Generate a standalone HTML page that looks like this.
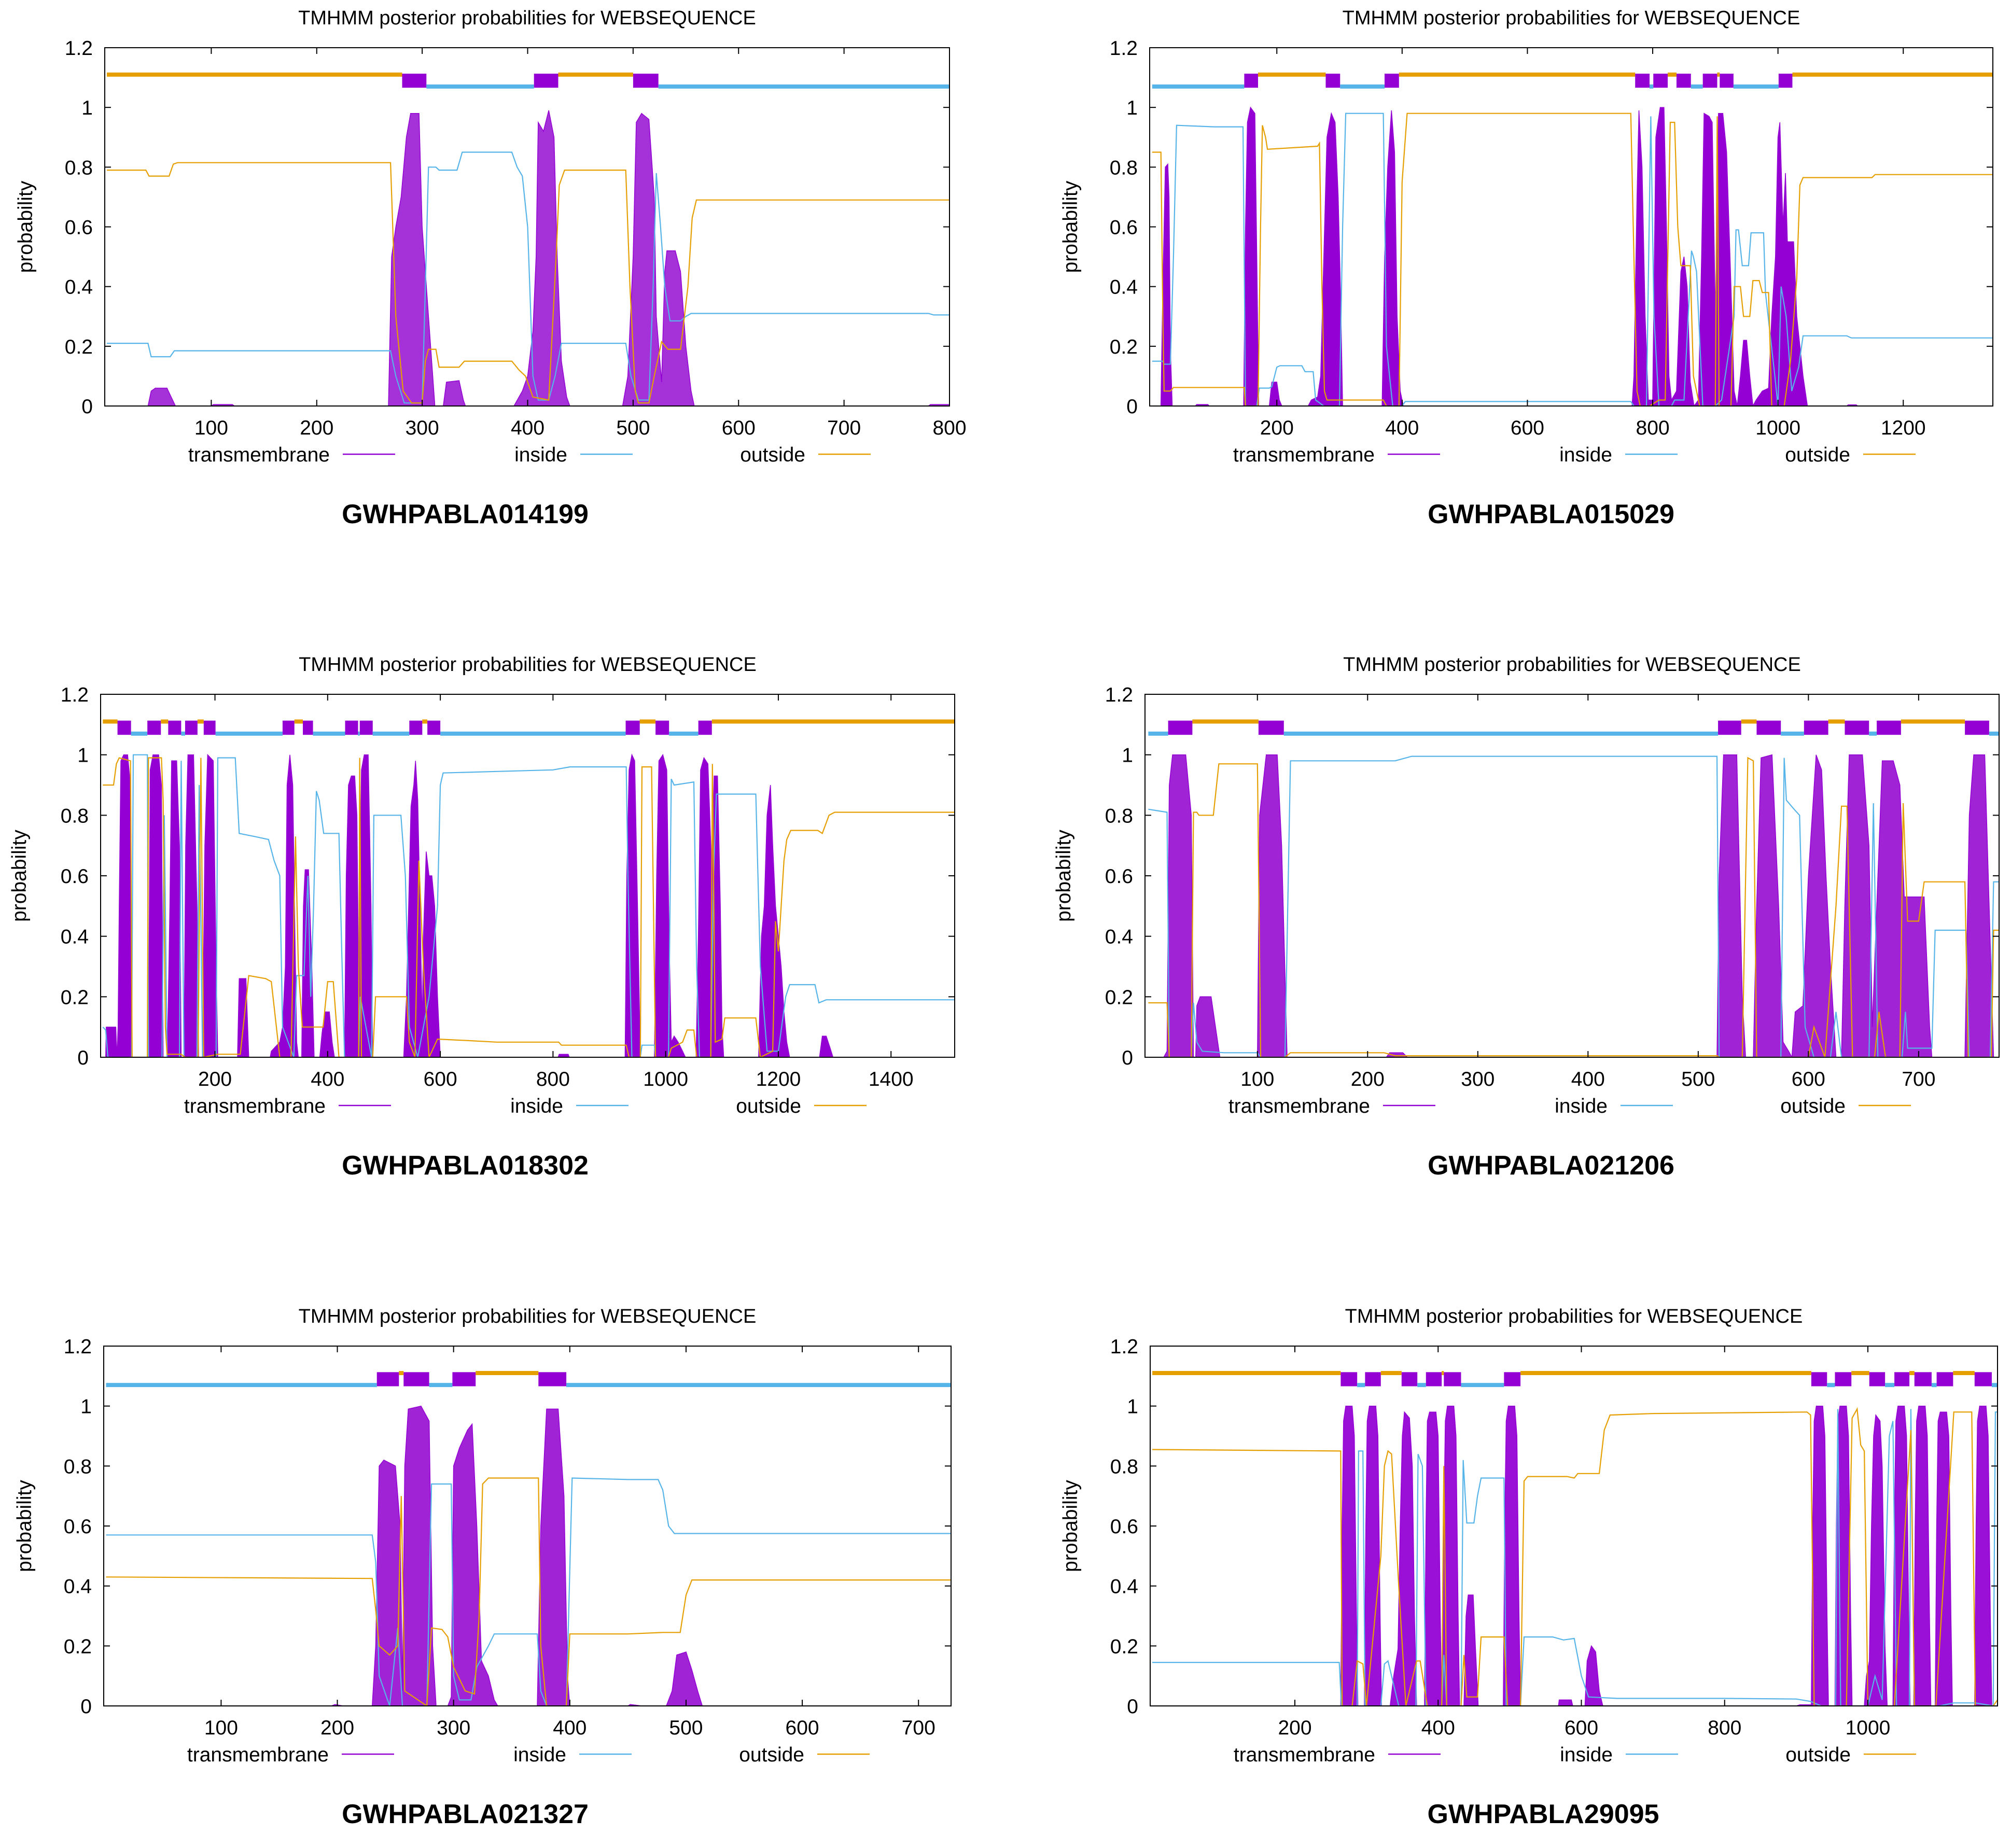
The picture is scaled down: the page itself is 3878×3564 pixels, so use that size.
<!DOCTYPE html>
<html><head><meta charset="utf-8"><style>
html,body{margin:0;padding:0;background:#fff}
svg{display:block}
text{font-family:"Liberation Sans",sans-serif;fill:#000}
</style></head><body>
<svg id="fig" xmlns="http://www.w3.org/2000/svg" width="3878" height="3564" viewBox="0 0 3878 3564"></svg>
<script>
// ===== chart 1: GWHPABLA014199 =====
const c1Topo=[[1,281,'o'],[281,304,'M'],[304,406,'i'],[406,429,'M'],[429,500,'o'],[500,524,'M'],[524,800,'i']];
const c1Tm=[[1,0],[40,0],[43,0.05],[47,0.06],[58,0.06],[62,0.03],[66,0],[100,0],[102,0.005],[120,0.005],[122,0],[268,0],[271,0.5],[275,0.6],[280,0.7],[285,0.9],[289,0.98],[297,0.98],[300,0.6],[303,0.45],[308,0.2],[312,0],[320,0],[323,0.08],[335,0.085],[339,0.02],[341,0],[387,0],[395,0.05],[400,0.1],[405,0.25],[408,0.5],[410,0.95],[415,0.92],[420,0.99],[425,0.9],[428,0.5],[432,0.15],[437,0.03],[440,0],[490,0],[495,0.1],[500,0.5],[503,0.95],[508,0.98],[515,0.96],[520,0.7],[522,0.3],[527,0.08],[530,0.45],[532,0.52],[540,0.52],[545,0.45],[550,0.2],[555,0.05],[558,0],[780,0],[782,0.005],[800,0.005]];
const c1In=[[1,0.21],[40,0.21],[43,0.165],[61,0.165],[65,0.185],[270,0.185],[275,0.1],[283,0.01],[300,0.01],[303,0.4],[306,0.8],[313,0.8],[316,0.79],[333,0.79],[338,0.85],[385,0.85],[390,0.8],[395,0.77],[400,0.6],[405,0.1],[410,0.02],[420,0.02],[426,0.1],[432,0.21],[493,0.21],[498,0.1],[505,0.02],[515,0.02],[519,0.4],[522,0.78],[526,0.6],[530,0.4],[535,0.285],[545,0.285],[550,0.3],[555,0.31],[780,0.31],[785,0.305],[800,0.305]];
const c1Out=[[1,0.79],[38,0.79],[41,0.77],[60,0.77],[64,0.81],[68,0.815],[270,0.815],[275,0.3],[282,0.05],[290,0.01],[300,0.01],[303,0.15],[306,0.19],[313,0.19],[316,0.13],[335,0.13],[340,0.15],[385,0.15],[392,0.12],[398,0.1],[405,0.03],[420,0.02],[427,0.5],[430,0.74],[435,0.79],[493,0.79],[497,0.4],[502,0.05],[505,0.01],[515,0.01],[520,0.1],[527,0.215],[533,0.19],[545,0.19],[552,0.4],[556,0.63],[560,0.69],[800,0.69]];
const c1Ticks=[100,200,300,400,500,600,700,800];

// ===== chart 2: GWHPABLA015029 =====
const c2Topo=[[1,148,'i'],[148,170,'M'],[170,278,'o'],[278,301,'M'],[301,372,'i'],[372,395,'M'],[395,772,'o'],[772,795,'M'],[795,801,'i'],[801,824,'M'],[824,838,'o'],[838,861,'M'],[861,880,'i'],[880,903,'M'],[903,907,'o'],[907,929,'M'],[929,1001,'i'],[1001,1023,'M'],[1023,1343,'o']];
const c2Tm=[[1,0],[15,0],[18,0.4],[22,0.8],[26,0.81],[28,0.7],[30,0.2],[33,0],[70,0],[72,0.005],[90,0.005],[92,0],[147,0],[150,0.6],[153,0.95],[158,1.0],[165,0.98],[168,0.5],[171,0],[188,0],[192,0.08],[200,0.08],[204,0.02],[208,0],[250,0],[255,0.02],[265,0.03],[270,0.1],[275,0.5],[280,0.9],[287,0.98],[293,0.95],[298,0.7],[302,0.35],[305,0],[368,0],[372,0.5],[377,0.8],[383,0.99],[388,0.85],[392,0.3],[397,0.05],[402,0],[767,0],[770,0.1],[775,0.7],[778,0.99],[783,0.8],[788,0.3],[793,0.02],[800,0.02],[805,0.9],[812,1.0],[818,1.0],[822,0.6],[826,0.1],[830,0.02],[838,0.05],[845,0.45],[850,0.5],[855,0.4],[860,0.08],[866,0],[873,0.02],[878,0.5],[882,0.98],[890,0.97],[895,0.95],[900,0.3],[905,0.98],[912,0.98],[918,0.85],[925,0.4],[930,0.05],[935,0],[940,0.1],[945,0.22],[950,0.22],[955,0.1],[960,0],[965,0.02],[975,0.05],[985,0.06],[990,0.3],[996,0.5],[1000,0.9],[1003,0.95],[1008,0.6],[1012,0.78],[1015,0.55],[1025,0.55],[1030,0.3],[1040,0.1],[1047,0],[1110,0],[1112,0.004],[1125,0.004],[1127,0],[1343,0]];
const c2In=[[1,0.15],[18,0.15],[20,0.14],[30,0.14],[35,0.5],[40,0.94],[100,0.935],[146,0.935],[150,0.0],[168,0.0],[172,0.06],[188,0.06],[192,0.065],[200,0.13],[205,0.135],[240,0.135],[245,0.115],[258,0.115],[262,0.02],[275,0.0],[300,0.0],[305,0.6],[310,0.98],[370,0.98],[375,0.2],[385,0.0],[400,0.0],[405,0.015],[765,0.015],[770,0.0],[790,0.0],[797,0.97],[802,0.3],[810,0.0],[830,0.0],[835,0.02],[850,0.02],[862,0.52],[865,0.5],[870,0.45],[880,0.0],[900,0.0],[910,0.02],[930,0.3],[933,0.59],[937,0.59],[943,0.47],[953,0.47],[957,0.58],[977,0.58],[980,0.38],[995,0.1],[1000,0.0],[1005,0.4],[1013,0.3],[1022,0.05],[1033,0.13],[1040,0.235],[1110,0.235],[1117,0.228],[1343,0.228]];
const c2Out=[[1,0.85],[15,0.85],[18,0.3],[20,0.05],[30,0.05],[35,0.062],[148,0.062],[150,0.0],[170,0.0],[174,0.6],[177,0.94],[182,0.9],[185,0.86],[265,0.87],[268,0.88],[272,0.4],[276,0.05],[280,0.02],[300,0.02],[305,0.02],[370,0.02],[375,0.0],[395,0.0],[400,0.75],[408,0.98],[765,0.98],[770,0.5],[775,0.05],[780,0.0],[795,0.0],[810,0.02],[820,0.02],[828,0.95],[835,0.95],[840,0.6],[845,0.47],[860,0.47],[865,0.1],[875,0.0],[900,0.0],[903,0.97],[906,0.0],[925,0.0],[930,0.4],[940,0.4],[945,0.3],[955,0.3],[960,0.42],[970,0.42],[975,0.38],[985,0.38],[990,0.0],[1010,0.0],[1020,0.15],[1030,0.43],[1035,0.74],[1040,0.765],[1150,0.765],[1155,0.775],[1343,0.775]];
const c2Ticks=[200,400,600,800,1000,1200];

// ===== chart 3: GWHPABLA018302 =====
const c3Topo=[[1,27,'o'],[27,51,'M'],[51,80,'i'],[80,104,'M'],[104,117,'o'],[117,140,'M'],[140,147,'i'],[147,169,'M'],[169,180,'o'],[180,201,'M'],[201,320,'i'],[320,341,'M'],[341,356,'o'],[356,374,'M'],[374,431,'i'],[431,454,'M'],[454,457,'i'],[457,480,'M'],[480,545,'i'],[545,568,'M'],[568,577,'o'],[577,600,'M'],[600,929,'i'],[929,954,'M'],[954,982,'o'],[982,1006,'M'],[1006,1058,'i'],[1058,1082,'M'],[1082,1513,'o']];
const c3Tm=[[1,0],[6,0],[7,0.1],[24,0.1],[26,0],[28,0.1],[30,0.5],[33,0.98],[38,1.0],[45,1.0],[50,0.9],[53,0],[82,0],[85,0.95],[90,1.0],[100,1.0],[105,0.9],[108,0],[115,0],[117,0.17],[120,0.5],[123,0.98],[132,0.98],[137,0.7],[140,0],[145,0],[148,0.7],[152,1.0],[162,1.0],[168,0.5],[171,0],[178,0],[182,0.7],[187,1.0],[197,0.98],[202,0.3],[205,0],[240,0],[243,0.26],[255,0.26],[260,0],[298,0],[300,0.02],[315,0.05],[320,0.1],[325,0.3],[328,0.9],[333,1.0],[338,0.9],[342,0.4],[345,0.05],[348,0],[354,0],[357,0.5],[360,0.62],[366,0.62],[372,0.3],[376,0],[386,0],[390,0.08],[395,0.15],[403,0.15],[408,0.05],[412,0],[430,0],[433,0.6],[437,0.9],[442,0.93],[448,0.93],[452,0.8],[456,0.05],[457,0.5],[460,0.95],[465,1.0],[472,1.0],[477,0.5],[480,0],[535,0],[540,0.2],[545,0.6],[548,0.83],[553,0.9],[556,0.98],[560,0.85],[565,0.4],[568,0.1],[570,0.4],[575,0.68],[580,0.6],[585,0.6],[590,0.5],[595,0.2],[600,0],[809,0],[811,0.01],[827,0.01],[829,0],[928,0],[931,0.6],[935,0.95],[940,1.0],[945,0.98],[950,0.5],[955,0],[980,0],[984,0.6],[988,0.98],[995,1.0],[1002,0.95],[1006,0.4],[1010,0.05],[1015,0.07],[1022,0.05],[1030,0.02],[1035,0],[1054,0],[1058,0.4],[1062,0.95],[1068,0.99],[1075,0.97],[1082,0.6],[1086,0.93],[1092,0.93],[1097,0.5],[1100,0.1],[1103,0],[1165,0],[1170,0.4],[1175,0.5],[1180,0.8],[1186,0.9],[1190,0.7],[1195,0.5],[1200,0.4],[1205,0.3],[1210,0.15],[1215,0.05],[1220,0],[1273,0],[1278,0.07],[1285,0.07],[1292,0.03],[1297,0],[1513,0]];
const c3In=[[1,0.1],[6,0.09],[10,0.0],[52,0.0],[55,1.0],[80,1.0],[82,0.0],[106,0.0],[110,0.8],[115,0.0],[137,0.0],[140,0.98],[145,0.0],[168,0.0],[172,0.9],[178,0.0],[202,0.0],[205,0.99],[236,0.99],[243,0.74],[270,0.73],[295,0.72],[305,0.65],[315,0.6],[320,0.1],[340,0.0],[345,0.27],[358,0.27],[365,0.6],[370,0.2],[375,0.5],[380,0.88],[385,0.85],[393,0.74],[420,0.74],[425,0.35],[430,0.0],[455,0.0],[458,0.2],[478,0.0],[482,0.8],[530,0.8],[538,0.6],[545,0.1],[560,0.0],[580,0.2],[595,0.5],[600,0.9],[605,0.94],[700,0.945],[800,0.95],[830,0.96],[930,0.96],[933,0.6],[940,0.0],[955,0.0],[958,0.04],[980,0.04],[982,0.0],[1005,0.0],[1010,0.92],[1015,0.9],[1050,0.91],[1055,0.3],[1060,0.0],[1080,0.0],[1085,0.6],[1090,0.87],[1160,0.87],[1168,0.3],[1180,0.02],[1200,0.02],[1213,0.2],[1220,0.24],[1265,0.24],[1272,0.18],[1285,0.19],[1513,0.19]];
const c3Out=[[1,0.9],[20,0.9],[25,0.97],[30,0.99],[50,0.98],[53,0.0],[80,0.0],[82,0.99],[105,0.99],[108,0.85],[112,0.1],[115,0.01],[140,0.01],[147,0.0],[170,0.0],[175,0.99],[180,0.0],[205,0.01],[245,0.01],[260,0.27],[290,0.26],[300,0.25],[315,0.0],[335,0.0],[343,0.73],[348,0.3],[355,0.1],[392,0.1],[400,0.25],[410,0.25],[420,0.0],[455,0.0],[457,0.99],[460,0.0],[480,0.0],[485,0.2],[540,0.2],[545,0.05],[555,0.0],[562,0.65],[570,0.3],[580,0.0],[595,0.06],[650,0.055],[700,0.05],[810,0.05],[815,0.04],[930,0.04],[935,0.0],[955,0.0],[958,0.96],[975,0.96],[982,0.0],[1005,0.0],[1010,0.03],[1030,0.05],[1038,0.09],[1050,0.09],[1055,0.0],[1080,0.0],[1083,0.97],[1088,0.05],[1100,0.06],[1105,0.13],[1160,0.13],[1168,0.0],[1190,0.02],[1195,0.45],[1200,0.35],[1210,0.65],[1215,0.72],[1222,0.75],[1270,0.75],[1278,0.74],[1290,0.8],[1300,0.81],[1513,0.81]];
const c3Ticks=[200,400,600,800,1000,1200,1400];

// ===== chart 4: GWHPABLA021206 =====
const c4Topo=[[1,19,'i'],[19,41,'M'],[41,101,'o'],[101,124,'M'],[124,518,'i'],[518,539,'M'],[539,553,'o'],[553,575,'M'],[575,596,'i'],[596,618,'M'],[618,633,'o'],[633,655,'M'],[655,662,'i'],[662,684,'M'],[684,742,'o'],[742,764,'M'],[764,773,'i']];
const c4Tm=[[1,0],[15,0],[18,0.02],[20,0.9],[23,1.0],[35,1.0],[40,0.8],[42,0],[44,0],[45,0.17],[48,0.2],[58,0.2],[62,0.1],[66,0],[100,0],[102,0.8],[108,1.0],[118,1.0],[122,0.7],[127,0],[217,0],[220,0.015],[232,0.015],[236,0],[517,0],[519,0.6],[523,1.0],[535,1.0],[540,0.2],[543,0],[550,0],[553,0.5],[557,0.99],[567,1.0],[573,0.5],[577,0.05],[582,0.02],[585,0],[588,0.15],[595,0.17],[600,0.6],[607,1.0],[612,0.95],[616,0.6],[620,0.3],[625,0],[630,0],[633,0.5],[637,1.0],[649,1.0],[655,0.7],[658,0.1],[662,0.5],[667,0.98],[677,0.98],[683,0.9],[687,0.53],[705,0.53],[710,0.1],[712,0],[742,0],[746,0.8],[750,1.0],[760,1.0],[764,0.5],[768,0],[773,0]];
const c4In=[[1,0.82],[18,0.81],[20,0.0],[40,0.0],[42,0.18],[45,0.05],[50,0.02],[70,0.015],[100,0.015],[103,0.0],[125,0.0],[130,0.98],[225,0.98],[240,0.995],[517,0.995],[519,0.0],[575,0.0],[578,0.99],[580,0.85],[587,0.82],[592,0.8],[597,0.1],[605,0.0],[620,0.0],[625,0.15],[630,0.0],[655,0.0],[659,0.84],[663,0.0],[685,0.0],[688,0.15],[690,0.03],[712,0.03],[715,0.42],[743,0.42],[746,0.0],[765,0.0],[768,0.58],[773,0.58]];
const c4Out=[[1,0.18],[18,0.18],[20,0.0],[40,0.0],[42,0.81],[45,0.81],[47,0.8],[60,0.8],[65,0.97],[100,0.97],[103,0.0],[125,0.0],[130,0.015],[215,0.015],[225,0.005],[517,0.005],[519,0.0],[540,0.0],[545,0.99],[550,0.98],[553,0.0],[600,0.0],[605,0.1],[615,0.0],[625,0.5],[630,0.83],[635,0.83],[640,0.0],[660,0.0],[664,0.15],[670,0.0],[683,0.0],[686,0.84],[690,0.45],[700,0.45],[705,0.58],[742,0.58],[745,0.0],[766,0.0],[768,0.42],[773,0.42]];
const c4Ticks=[100,200,300,400,500,600,700];

// ===== chart 5: GWHPABLA021327 =====
const c5Topo=[[1,234,'i'],[234,253,'M'],[253,257,'o'],[257,279,'M'],[279,299,'i'],[299,319,'M'],[319,373,'o'],[373,397,'M'],[397,728,'i']];
const c5Tm=[[1,0],[195,0],[198,0.005],[205,0],[230,0],[233,0.2],[236,0.8],[240,0.82],[250,0.8],[254,0.6],[256,0.05],[258,0.8],[261,0.99],[272,1.0],[279,0.95],[282,0.2],[285,0],[295,0],[298,0.03],[300,0.8],[305,0.86],[312,0.92],[316,0.94],[320,0.6],[324,0.15],[330,0.1],[335,0.02],[338,0],[372,0],[375,0.6],[380,0.99],[390,0.99],[395,0.7],[398,0.1],[400,0],[450,0],[452,0.005],[462,0],[483,0],[488,0.05],[492,0.17],[500,0.18],[505,0.12],[510,0.05],[514,0],[728,0]];
const c5In=[[1,0.57],[230,0.57],[233,0.48],[236,0.1],[245,0.0],[252,0.26],[256,0.0],[277,0.0],[281,0.74],[298,0.74],[300,0.1],[305,0.02],[315,0.02],[320,0.13],[330,0.2],[335,0.24],[372,0.24],[375,0.05],[380,0.0],[397,0.0],[402,0.76],[450,0.755],[476,0.755],[480,0.72],[485,0.6],[490,0.575],[728,0.575]];
const c5Out=[[1,0.43],[230,0.425],[233,0.32],[236,0.2],[245,0.17],[252,0.2],[255,0.7],[258,0.05],[277,0.0],[281,0.26],[290,0.255],[295,0.23],[300,0.13],[310,0.05],[318,0.04],[322,0.3],[325,0.74],[330,0.76],[373,0.76],[375,0.2],[380,0.0],[397,0.0],[400,0.24],[450,0.24],[480,0.245],[495,0.245],[500,0.37],[505,0.42],[728,0.42]];
const c5Ticks=[100,200,300,400,500,600,700];

// ===== chart 6: GWHPABLA29095 =====
const c6Topo=[[1,264,'o'],[264,287,'M'],[287,298,'i'],[298,320,'M'],[320,349,'o'],[349,371,'M'],[371,383,'i'],[383,405,'M'],[405,408,'o'],[408,432,'M'],[432,492,'i'],[492,515,'M'],[515,921,'o'],[921,943,'M'],[943,954,'i'],[954,977,'M'],[977,1002,'o'],[1002,1024,'M'],[1024,1037,'i'],[1037,1058,'M'],[1058,1065,'o'],[1065,1089,'M'],[1089,1096,'i'],[1096,1119,'M'],[1119,1149,'o'],[1149,1173,'M'],[1173,1181,'i']];
const c6Tm=[[1,0],[264,0],[266,0.6],[268,0.95],[271,1.0],[280,1.0],[283,0.9],[286,0.3],[288,0],[297,0],[299,0.6],[301,0.95],[304,1.0],[313,1.0],[316,0.9],[319,0.3],[321,0],[333,0],[338,0.1],[344,0.19],[347,0.6],[350,0.9],[353,0.98],[360,0.96],[364,0.8],[367,0.3],[370,0],[381,0],[383,0.6],[385,0.95],[388,0.98],[397,0.98],[400,0.9],[403,0.3],[405,0],[408,0.6],[410,0.95],[413,1.0],[422,1.0],[425,0.9],[428,0.3],[430,0],[436,0],[439,0.3],[442,0.37],[449,0.37],[452,0.2],[456,0],[491,0],[493,0.6],[495,0.95],[498,1.0],[507,1.0],[510,0.9],[513,0.3],[515,0],[568,0],[569,0.02],[586,0.02],[588,0],[605,0],[608,0.15],[614,0.2],[620,0.18],[625,0.05],[630,0],[900,0],[905,0.004],[920,0.004],[921,0],[923,0.6],[925,0.95],[928,1.0],[937,1.0],[940,0.9],[943,0.3],[945,0],[954,0],[956,0.6],[958,0.95],[961,1.0],[970,1.0],[973,0.9],[976,0.3],[978,0],[995,0],[998,0.1],[1002,0.15],[1005,0.6],[1008,0.9],[1011,0.97],[1017,0.95],[1020,0.8],[1024,0.2],[1027,0],[1035,0],[1037,0.6],[1039,0.95],[1042,1.0],[1051,1.0],[1054,0.9],[1057,0.3],[1059,0],[1064,0],[1066,0.6],[1068,0.95],[1071,1.0],[1080,1.0],[1083,0.9],[1086,0.3],[1088,0],[1094,0],[1096,0.6],[1098,0.95],[1101,0.98],[1110,0.98],[1113,0.9],[1116,0.3],[1118,0],[1149,0],[1151,0.6],[1153,0.95],[1156,1.0],[1165,1.0],[1168,0.9],[1171,0.3],[1173,0],[1181,0]];
const c6In=[[1,0.145],[262,0.145],[265,0.0],[287,0.0],[289,0.85],[295,0.85],[298,0.0],[320,0.0],[325,0.14],[330,0.15],[340,0.05],[345,0.0],[369,0.0],[372,0.84],[378,0.8],[383,0.0],[405,0.0],[408,0.17],[412,0.0],[432,0.0],[435,0.82],[440,0.61],[450,0.61],[455,0.7],[460,0.76],[492,0.76],[495,0.0],[515,0.0],[520,0.23],[560,0.23],[575,0.22],[590,0.225],[600,0.1],[610,0.03],[650,0.025],[800,0.025],[900,0.023],[920,0.015],[935,0.0],[955,0.0],[958,0.99],[962,0.0],[1000,0.0],[1010,0.1],[1020,0.02],[1030,0.9],[1035,0.95],[1040,0.0],[1058,0.0],[1060,0.99],[1065,0.0],[1100,0.0],[1120,0.01],[1150,0.01],[1175,0.0],[1178,0.98],[1181,0.98]];
const c6Out=[[1,0.855],[264,0.85],[266,0.0],[280,0.0],[287,0.15],[295,0.14],[300,0.0],[320,0.5],[325,0.8],[330,0.85],[335,0.84],[345,0.4],[355,0.0],[370,0.15],[375,0.15],[385,0.0],[405,0.0],[408,0.8],[412,0.0],[432,0.0],[436,0.17],[440,0.03],[455,0.03],[460,0.23],[492,0.23],[497,0.0],[515,0.0],[520,0.75],[525,0.765],[580,0.765],[590,0.76],[595,0.775],[625,0.775],[632,0.92],[640,0.97],[700,0.975],[915,0.98],[920,0.97],[925,0.0],[970,0.0],[978,0.96],[985,0.99],[990,0.87],[995,0.85],[1000,0.0],[1037,0.0],[1060,0.92],[1065,0.0],[1095,0.0],[1120,0.98],[1145,0.98],[1150,0.0],[1175,0.0],[1181,0.02]];
const c6Ticks=[200,400,600,800,1000];

const yTicks=[0,0.2,0.4,0.6,0.8,1,1.2];
const yTickLabels=['0','0.2','0.4','0.6','0.8','1','1.2'];
const names=['GWHPABLA014199','GWHPABLA015029','GWHPABLA018302','GWHPABLA021206','GWHPABLA021327','GWHPABLA29095'];

// layout (pixel geometry only)
const layout=[
 {L:202,R:1831,T:92,B:783,xmin:-1,xmax:800,ylx:49,nameX:897,topo:c1Topo,tm:c1Tm,ins:c1In,out:c1Out,ticks:c1Ticks,tmCol:'#a531d8'},
 {L:2217,R:3843,T:92,B:783,xmin:-3,xmax:1343,ylx:2064,nameX:2991,topo:c2Topo,tm:c2Tm,ins:c2In,out:c2Out,ticks:c2Ticks,tmCol:'#9400d3'},
 {L:194,R:1841,T:1339,B:2039,xmin:-3,xmax:1513,ylx:37,nameX:897,topo:c3Topo,tm:c3Tm,ins:c3In,out:c3Out,ticks:c3Ticks,tmCol:'#9400d3'},
 {L:2208,R:3855,T:1339,B:2039,xmin:-2,xmax:773,ylx:2051,nameX:2991,topo:c4Topo,tm:c4Tm,ins:c4In,out:c4Out,ticks:c4Ticks,tmCol:'#a024d6'},
 {L:200,R:1834,T:2596,B:3290,xmin:-1,xmax:728,ylx:47,nameX:897,topo:c5Topo,tm:c5Tm,ins:c5In,out:c5Out,ticks:c5Ticks,tmCol:'#a024d6'},
 {L:2218,R:3852,T:2596,B:3290,xmin:-2,xmax:1181,ylx:2064,nameX:2976,topo:c6Topo,tm:c6Tm,ins:c6In,out:c6Out,ticks:c6Ticks,tmCol:'#9a10d6'}
];

const NS='http://www.w3.org/2000/svg';
const fig=document.getElementById('fig');
function mk(tag,attrs,parent){const e=document.createElementNS(NS,tag);for(const k in attrs)e.setAttribute(k,attrs[k]);(parent||fig).appendChild(e);return e;}

layout.forEach((c,ci)=>{
  const g=mk('g',{});
  
  
  const xs=v=>c.L+(v-c.xmin)/(c.xmax-c.xmin)*(c.R-c.L);
  const ys=v=>c.B-v/1.2*(c.B-c.T);
  const cid='clip'+ci;
  const defs=mk('defs',{},g);
  const cp=mk('clipPath',{id:cid},defs);
  mk('rect',{x:c.L,y:c.T,width:c.R-c.L,height:c.B-c.T},cp);
  const plot=mk('g',{'clip-path':'url(#'+cid+')'},g);
  
  
  let d='M'+xs(c.tm[0][0])+','+ys(0);
  c.tm.forEach(p=>{d+=' L'+xs(p[0]).toFixed(1)+','+ys(p[1]).toFixed(1);});
  d+=' L'+xs(c.tm[c.tm.length-1][0])+','+ys(0)+' Z';
  const tmA=mk('path',{d:d,fill:c.tmCol,stroke:'#9400d3','stroke-width':1.5},plot);
  
  
  [[c.ins,'#56b4e9','inside-line'],[c.out,'#e69f00','outside-line']].forEach(s=>{
    const pts=s[0].map(p=>xs(p[0]).toFixed(1)+','+ys(p[1]).toFixed(1)).join(' ');
    const pl=mk('polyline',{points:pts,fill:'none',stroke:s[1],'stroke-width':2.2},plot);
    
    
  });
  c.topo.forEach(t=>{
    let el;
    if(t[2]==='M'){
      el=mk('rect',{x:xs(t[0]),y:ys(1.113),width:xs(t[1])-xs(t[0]),height:ys(1.066)-ys(1.113),fill:'#9400d3'},plot);
      
    } else {
      const yv=t[2]==='i'?1.07:1.11;
      el=mk('line',{x1:xs(t[0]),x2:xs(t[1]),y1:ys(yv),y2:ys(yv),stroke:t[2]==='i'?'#56b4e9':'#e69f00','stroke-width':8},plot);
      
    }
    
  });
  const fr=mk('rect',{x:c.L,y:c.T,width:c.R-c.L,height:c.B-c.T,fill:'none',stroke:'#000','stroke-width':2},g);
  
  
  yTicks.forEach((v,i)=>{
    const y=ys(v);
    mk('line',{x1:c.L,x2:c.L+12,y1:y,y2:y,stroke:'#000','stroke-width':2},g);
    mk('line',{x1:c.R-12,x2:c.R,y1:y,y2:y,stroke:'#000','stroke-width':2},g);
    const t=mk('text',{x:c.L-23,y:y+14,'text-anchor':'end','font-size':39},g);
    t.textContent=yTickLabels[i];
    
    
  });
  c.ticks.forEach(v=>{
    const x=xs(v);
    mk('line',{x1:x,x2:x,y1:c.B,y2:c.B-12,stroke:'#000','stroke-width':2},g);
    mk('line',{x1:x,x2:x,y1:c.T,y2:c.T+12,stroke:'#000','stroke-width':2},g);
    const t=mk('text',{x:x,y:c.B+55,'text-anchor':'middle','font-size':39},g);
    t.textContent=String(v);
    
    
  });
  const ti=mk('text',{x:(c.L+c.R)/2,y:c.T-45,'text-anchor':'middle','font-size':38},g);
  ti.textContent='TMHMM posterior probabilities for WEBSEQUENCE';
  
  
  const yc=(c.T+c.B)/2;
  const yl=mk('text',{x:c.ylx+13,y:yc,'text-anchor':'middle','font-size':39,transform:'rotate(-90 '+(c.ylx+13)+' '+yc+')'},g);
  yl.textContent='probability';
  
  
  [['transmembrane','#9400d3',434],['inside','#56b4e9',892],['outside','#e69f00',1351]].forEach(l=>{
    const lt=mk('text',{x:c.L+l[2],y:c.B+107,'text-anchor':'end','font-size':39},g);
    lt.textContent=l[0];
    
    
    const ll=mk('line',{x1:c.L+l[2]+25,x2:c.L+l[2]+126,y1:c.B+93,y2:c.B+93,stroke:l[1],'stroke-width':2.5},g);
    
    
  });
  const nm=mk('text',{x:c.nameX,y:c.B+226,'text-anchor':'middle','font-size':52,'font-weight':'bold',fill:'#222'},g);
  nm.textContent=names[ci];
  
  
});
</script>
</body></html>
